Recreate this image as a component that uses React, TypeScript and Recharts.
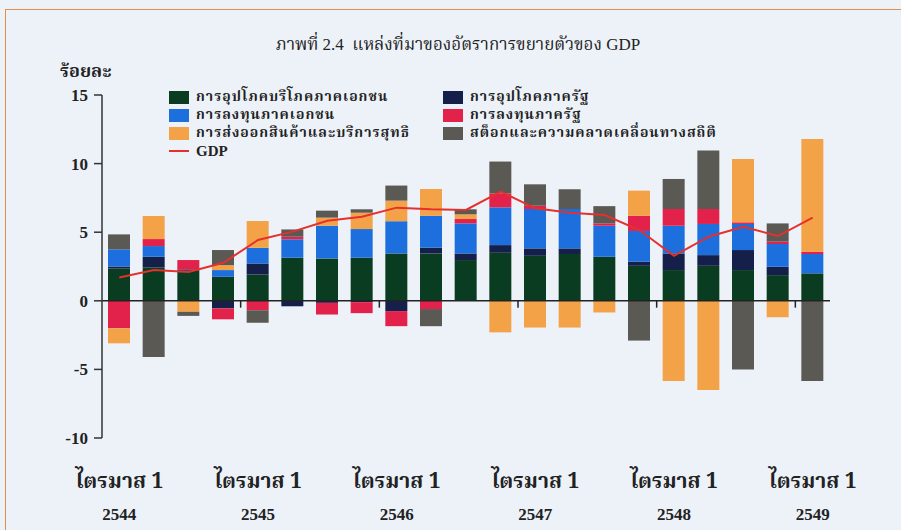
import React from "react";
import {
  ComposedChart, Bar, Line, XAxis, YAxis, ReferenceLine,
} from "recharts";

// ไตรมาส 1/2544 ถึง ไตรมาส 1/2549
const PERIODS = [
  "1/2544", "2/2544", "3/2544", "4/2544",
  "1/2545", "2/2545", "3/2545", "4/2545",
  "1/2546", "2/2546", "3/2546", "4/2546",
  "1/2547", "2/2547", "3/2547", "4/2547",
  "1/2548", "2/2548", "3/2548", "4/2548",
  "1/2549",
];

const PRIVATE_CONS = [2.35, 2.43, 2.19, 1.75, 1.92, 3.14, 3.09, 3.14, 3.45, 3.45, 2.97, 3.5, 3.28, 3.41, 3.21, 2.55, 2.24, 2.55, 2.24, 1.87, 2.0];
const GOV_CONS     = [0.15, 0.78, 0.1, -0.55, 0.8, -0.4, -0.15, -0.1, -0.75, 0.42, 0.48, 0.56, 0.54, 0.41, 0, 0.3, 1.21, 0.78, 1.46, 0.61, 0];
const PRIVATE_INV  = [1.25, 0.78, 0, 0.49, 1.15, 1.34, 2.38, 2.09, 2.35, 2.33, 2.19, 2.75, 2.87, 2.87, 2.26, 2.24, 2.02, 2.27, 1.9, 1.66, 1.41];
const GOV_INV      = [-2.0, 0.51, 0.68, -0.8, -0.68, 0.19, -0.85, -0.8, -1.1, -0.6, 0.32, 1.02, 0.24, 0, 0.17, 1.11, 1.22, 1.09, 0.12, 0.17, 0.17];
const NET_EXPORTS  = [-1.1, 1.68, -0.8, 0.36, 1.95, 0, 0.59, 1.19, 1.5, 1.95, 0.34, -2.3, -1.95, -1.95, -0.85, 1.83, -5.85, -6.5, 4.62, -1.2, 8.22];
const STOCK_STAT   = [1.09, -4.1, -0.3, 1.1, -0.92, 0.53, 0.51, 0.25, 1.1, -1.25, 0.37, 2.32, 1.56, 1.44, 1.26, -2.9, 2.19, 4.26, -5.0, 1.33, -5.85];
const GDP          = [1.7, 2.24, 2.1, 2.77, 4.43, 5.04, 5.84, 6.13, 6.79, 6.67, 6.62, 7.96, 6.74, 6.42, 6.25, 5.16, 3.28, 4.67, 5.4, 4.72, 6.06];

const Y_TICKS = [-10, -5, 0, 5, 10, 15];

const SERIES = [
  { key: "pc", name: "การอุปโภคบริโภคภาคเอกชน", color: "#0a3c21" },
  { key: "gc", name: "การอุปโภคภาครัฐ", color: "#14204a" },
  { key: "pi", name: "การลงทุนภาคเอกชน", color: "#1c6fdc" },
  { key: "gi", name: "การลงทุนภาครัฐ", color: "#e3224b" },
  { key: "nx", name: "การส่งออกสินค้าและบริการสุทธิ", color: "#f4a247" },
  { key: "st", name: "สต็อกและความคลาดเคลื่อนทางสถิติ", color: "#5a5954" },
];

const GDP_COLOR = "#e5302c";

const data = PERIODS.map((p, i) => ({
  idx: i,
  period: p,
  pc: PRIVATE_CONS[i],
  gc: GOV_CONS[i],
  pi: PRIVATE_INV[i],
  gi: GOV_INV[i],
  nx: NET_EXPORTS[i],
  st: STOCK_STAT[i],
  gdp: GDP[i],
}));

const Q1_IDX = PERIODS.map((p, i) => (p.startsWith("1/") ? i : -1)).filter((i) => i >= 0);
const YEAR_BREAKS = Q1_IDX.filter((i) => i > 0).map((i) => i - 0.5);

const THAI = "'Noto Serif Thai', 'Noto Sans Thai', 'Liberation Serif', serif";
const SERIF = "'Liberation Serif', serif";
const INK = "#222";

function QuarterTick({ x, y, payload }: { x?: number; y?: number; payload?: { value: number } }) {
  const i = payload?.value ?? 0;
  const year = PERIODS[i]?.split("/")[1] ?? "";
  return (
    <g>
      <text x={x} y={(y ?? 0) + 42} textAnchor="middle" fill={INK}
        style={{ fontFamily: THAI, fontSize: 21, fontWeight: 700 }}>
        ไตรมาส 1
      </text>
      <text x={x} y={(y ?? 0) + 74} textAnchor="middle" fill={INK}
        style={{ fontFamily: SERIF, fontSize: 17, fontWeight: 700 }}>
        {year}
      </text>
    </g>
  );
}

function LegendItem({ color, name, line }: { color: string; name: string; line?: boolean }) {
  return (
    <div style={{ display: "flex", alignItems: "center", height: 18 }}>
      <span style={{
        width: 20, height: line ? 2 : 13, background: color,
        display: "inline-block", marginRight: 7, flex: "none",
      }} />
      <span style={{
        fontFamily: line ? SERIF : THAI, fontSize: line ? 15 : 14, fontWeight: 700, color: INK,
        whiteSpace: "nowrap", lineHeight: "18px", letterSpacing: line ? 0 : 1,
      }}>
        {name}
      </span>
    </div>
  );
}

function LegendBox() {
  const leftCol = [SERIES[0], SERIES[2], SERIES[4]];
  const rightCol = [SERIES[1], SERIES[3], SERIES[5]];
  return (
    <div style={{ position: "absolute", left: 169, top: 88, display: "flex" }}>
      <div style={{ width: 274 }}>
        {leftCol.map((s) => <LegendItem key={s.key} color={s.color} name={s.name} />)}
        <LegendItem color={GDP_COLOR} name="GDP" line />
      </div>
      <div>
        {rightCol.map((s) => <LegendItem key={s.key} color={s.color} name={s.name} />)}
      </div>
    </div>
  );
}

export default function App() {
  return (
    <div style={{ position: "fixed", left: 0, top: 0, width: 901, height: 530, background: "#edf2f9", overflow: "hidden" }}>
      <div style={{
        position: "absolute", left: 5, top: 9, width: 920, height: 540,
        borderTop: "1.5px solid #e2904a", borderLeft: "1.5px solid #e2904a",
      }} />
      <div style={{
        position: "absolute", left: 0, width: 916, top: 32, textAlign: "center",
        fontFamily: SERIF + ", " + THAI, fontSize: 17, color: INK,
      }}>
        ภาพที่ 2.4&nbsp;&nbsp;แหล่งที่มาของอัตราการขยายตัวของ GDP
      </div>
      <div style={{
        position: "absolute", left: 60, top: 58, fontFamily: THAI, fontSize: 18, fontWeight: 700, color: INK,
      }}>
        ร้อยละ
      </div>
      <ComposedChart
        width={901}
        height={530}
        data={data}
        stackOffset="sign"
        margin={{ top: 95, right: 71, left: 52, bottom: 32 }}
        style={{ position: "absolute", left: 0, top: 0 }}
      >
        <XAxis
          dataKey="idx"
          type="number"
          domain={[-0.5, PERIODS.length - 0.5]}
          ticks={Q1_IDX}
          tick={<QuarterTick />}
          axisLine={false}
          tickLine={false}
          height={60}
          interval={0}
        />
        <YAxis
          domain={[-10, 15]}
          ticks={Y_TICKS}
          width={50}
          interval={0}
          axisLine={{ stroke: "#333", strokeWidth: 1.5 }}
          tickLine={{ stroke: "#333", strokeWidth: 1.5 }}
          tickSize={8}
          tickMargin={6}
          tick={{ fill: INK, fontSize: 17, fontWeight: 700, fontFamily: SERIF }}
        />
        {SERIES.map((s) => (
          <Bar
            key={s.key}
            dataKey={s.key}
            name={s.name}
            stackId="gdp"
            fill={s.color}
            barSize={22}
            isAnimationActive={false}
          />
        ))}
        <ReferenceLine y={0} stroke="#222" strokeWidth={1.5} />
        {YEAR_BREAKS.map((b) => (
          <ReferenceLine
            key={b}
            segment={[{ x: b, y: 0 }, { x: b, y: -0.5 }]}
            stroke="#222"
            strokeWidth={1.5}
          />
        ))}
        <Line
          dataKey="gdp"
          name="GDP"
          type="linear"
          stroke={GDP_COLOR}
          strokeWidth={2}
          dot={false}
          isAnimationActive={false}
        />
      </ComposedChart>
      <LegendBox />
    </div>
  );
}
